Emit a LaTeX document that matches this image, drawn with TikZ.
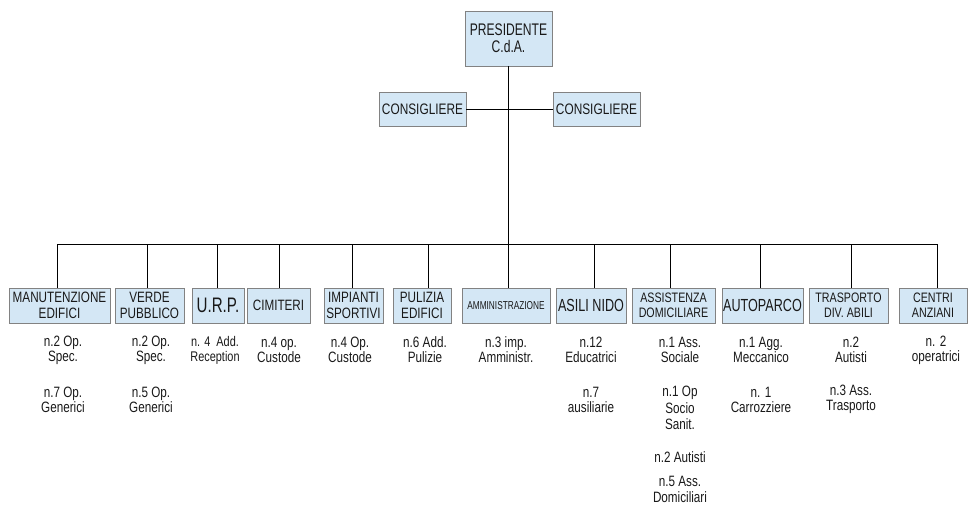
\documentclass[tikz,border=0pt]{standalone}
\usepackage{fontspec}
\setmainfont{Liberation Sans}[FakeStretch=0.78]
\newfontfamily\narrowfam{Liberation Sans}[FakeStretch=0.72]
\definecolor{boxfill}{RGB}{212,231,245}
\definecolor{boxline}{RGB}{130,130,130}
\definecolor{txt}{RGB}{25,25,25}
\begin{document}
\begin{tikzpicture}[x=1pt,y=-1pt,
  box/.style={draw=boxline, fill=boxfill, line width=0.9pt, inner sep=0pt,
    minimum height=35pt, align=center, text=txt, font=\fontsize{15}{15.5}\selectfont},
  bigbox/.style={box, font=\narrowfam\fontsize{17.5}{17.5}\selectfont},
  smallbox/.style={box, font=\fontsize{13.7}{15}\selectfont},
  lbl/.style={align=center, inner sep=0pt, text=txt, font=\fontsize{15}{15}\selectfont},
  conn/.style={line width=1pt, draw=black}]
\useasboundingbox (0,0) rectangle (970,512);

% top
\node[box, minimum width=87pt, minimum height=55pt, font=\narrowfam\fontsize{16.8}{17}\selectfont] (pres) at (508.5,38.5) {PRESIDENTE\\C.d.A.};
\node[box, minimum width=87pt, minimum height=34pt, font=\fontsize{15.2}{15}\selectfont] (consL) at (422.5,109) {CONSIGLIERE};
\node[box, minimum width=87pt, minimum height=34pt, font=\fontsize{15.2}{15}\selectfont] (consR) at (596.5,109) {CONSIGLIERE};

% bottom boxes
\node[box, minimum width=101pt] (man) at (59.5,305.5) {MANUTENZIONE\\EDIFICI};
\node[box, minimum width=69pt] (ver) at (149.5,305.5) {VERDE\\PUBBLICO};
\node[bigbox, minimum width=52pt, font=\narrowfam\fontsize{21}{21}\selectfont] (urp) at (218,305.5) {U.R.P.};
\node[box, minimum width=63pt] (cim) at (278.5,305.5) {CIMITERI};
\node[box, minimum width=59pt] (imp) at (353.5,305.5) {IMPIANTI\\SPORTIVI};
\node[box, minimum width=58pt] (pul) at (422,305.5) {PULIZIA\\EDIFICI};
\node[box, minimum width=88pt, font=\narrowfam\fontsize{11.5}{11.5}\selectfont] (amm) at (506,305.5) {AMMINISTRAZIONE};
\node[bigbox, minimum width=70pt] (asi) at (591,305.5) {ASILI NIDO};
\node[smallbox, minimum width=83pt] (ass) at (673.5,305.5) {ASSISTENZA\\DOMICILIARE};
\node[bigbox, minimum width=81pt] (aut) at (762.5,305.5) {AUTOPARCO};
\node[smallbox, minimum width=79pt] (tra) at (848.5,305.5) {TRASPORTO\\DIV. ABILI};
\node[smallbox, minimum width=68pt] (cen) at (933,305.5) {CENTRI\\ANZIANI};

% connectors
\coordinate (busy) at (0,244);
\draw[conn] (pres.south) -- (pres.south |- amm.north);
\draw[conn] (consL.east) -- (consR.west);
\draw[conn] ([xshift=-2.5pt]man.north |- busy) -- ([xshift=4pt]cen.north |- busy);
\draw[conn] ([xshift=-2.5pt]man.north) -- ([xshift=-2.5pt]man.north |- busy);
\draw[conn] ([xshift=-2.5pt]ver.north) -- ([xshift=-2.5pt]ver.north |- busy);
\draw[conn] ([xshift=-1pt]urp.north) -- ([xshift=-1pt]urp.north |- busy);
\draw[conn] ([xshift=0.5pt]cim.north) -- ([xshift=0.5pt]cim.north |- busy);
\draw[conn] ([xshift=-1.5pt]imp.north) -- ([xshift=-1.5pt]imp.north |- busy);
\draw[conn] ([xshift=6pt]pul.north) -- ([xshift=6pt]pul.north |- busy);
\draw[conn] ([xshift=3pt]asi.north) -- ([xshift=3pt]asi.north |- busy);
\draw[conn] ([xshift=-3.5pt]ass.north) -- ([xshift=-3.5pt]ass.north |- busy);
\draw[conn] ([xshift=-2.5pt]aut.north) -- ([xshift=-2.5pt]aut.north |- busy);
\draw[conn] ([xshift=2.5pt]tra.north) -- ([xshift=2.5pt]tra.north |- busy);
\draw[conn] ([xshift=4pt]cen.north) -- ([xshift=4pt]cen.north |- busy);

% texts
\node[lbl] (man1) at (63,350) {n.2 Op.\\Spec.};
\node[lbl] (man2) at (63,399.5) {n.7 Op.\\Generici};
\node[lbl] (ver1) at (151,350) {n.2 Op.\\Spec.};
\node[lbl] (ver2) at (151,399.5) {n.5 Op.\\Generici};
\node[lbl, font=\fontsize{14}{15}\selectfont] (urp1) at (215,350) {n. 4\ \ Add.\\Reception};
\node[lbl] (cim1) at (279,350) {n.4 op.\\Custode};
\node[lbl] (imp1) at (350,350) {n.4 Op.\\Custode};
\node[lbl] (pul1) at (425,350) {n.6 Add.\\Pulizie};
\node[lbl] (amm1) at (506,350) {n.3 imp.\\Amministr.};
\node[lbl] (asi1) at (591,350) {n.12\\Educatrici};
\node[lbl] (asi2) at (591,399.5) {n.7\\ausiliarie};
\node[lbl] (ass1) at (680,350) {n.1 Ass.\\Sociale};
\node[lbl, font=\fontsize{15}{16.2}\selectfont] (ass2) at (680,408) {n.1 Op\\Socio\\Sanit.};
\node[lbl] (ass3) at (680,457) {n.2 Autisti};
\node[lbl, font=\fontsize{15}{16}\selectfont] (ass4) at (680,489) {n.5 Ass.\\Domiciliari};
\node[lbl] (aut1) at (761,350) {n.1 Agg.\\Meccanico};
\node[lbl] (aut2) at (761,399.5) {n. 1\\Carrozziere};
\node[lbl] (tra1) at (851,350) {n.2\\Autisti};
\node[lbl] (tra2) at (851,399.5) {n.3 Ass.\\Trasporto};
\node[lbl] (cen1) at (936,350) {n. 2\\operatrici};
\end{tikzpicture}
\end{document}
